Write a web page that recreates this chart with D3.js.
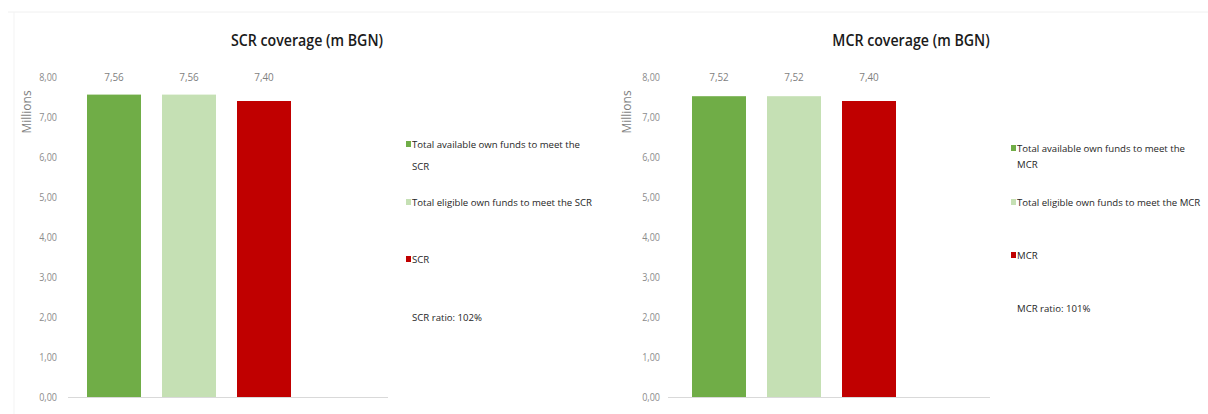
<!DOCTYPE html>
<html><head><meta charset="utf-8">
<script src="https://cdn.jsdelivr.net/npm/d3@7"></script>
<style>
body{margin:0;background:#fff;}
svg text{font-family:"Open Sans",sans-serif;}
</style></head>
<body><svg id="c" width="1208" height="414"></svg>
<script>
// ---- data ----
const categories = ["Total available own funds", "Total eligible own funds", "Requirement"];
const scrValues = [7.56, 7.56, 7.40];
const mcrValues = [7.52, 7.52, 7.40];
const yTicks = [0, 1, 2, 3, 4, 5, 6, 7, 8];
const scrTitle = "SCR coverage (m BGN)";
const mcrTitle = "MCR coverage (m BGN)";
const scrLegend = [["Total available own funds to meet the", "SCR"], ["Total eligible own funds to meet the SCR"], ["SCR"]];
const mcrLegend = [["Total available own funds to meet the", "MCR"], ["Total eligible own funds to meet the MCR"], ["MCR"]];
const scrRatio = "SCR ratio: 102%";
const mcrRatio = "MCR ratio: 101%";
const axisTitle = "Millions";
const colors = ["#70AD47", "#C5E0B4", "#C00000"];

const svg = d3.select("#c");
// faint outer frame lines
svg.append("line").attr("x1",8).attr("x2",1208).attr("y1",12).attr("y2",12).attr("stroke","#f0f0f0");
svg.append("line").attr("x1",14).attr("x2",14).attr("y1",12).attr("y2",414).attr("stroke","#f3f3f3");

const fmt = v => d3.format(".2f")(v).replace(".", ",");
function squeeze(sel, f){
  sel.each(function(){
    const w = this.getComputedTextLength();
    d3.select(this).attr("textLength", w*f).attr("lengthAdjust","spacingAndGlyphs");
  });
}

function drawChart(o){
  const g = svg.append("g");
  const y = d3.scaleLinear().domain([0, 8]).range([397, 77]);
  const x = d3.scaleBand().domain(categories).range(o.band).paddingInner(0.28).paddingOuter(0.14);
  // title
  g.append("text").attr("x", o.titleX).attr("y", 46).attr("text-anchor","middle")
    .attr("font-size", 16.5).attr("font-weight", 600).attr("fill","#1a1a1a").text(o.title).call(squeeze, 0.86);
  // y axis
  const ax = g.append("g").attr("transform", `translate(${o.axisX},0)`)
    .call(d3.axisLeft(y).tickValues(yTicks).tickFormat(fmt).tickSize(0).tickPadding(0));
  ax.select(".domain").remove();
  ax.selectAll("text").attr("font-size", 10.5).attr("fill","#8c8c8c")
    .style("font-family",'"Open Sans",sans-serif').call(squeeze, 0.86);
  // axis title
  g.append("text").attr("transform", `translate(${o.millX},112) rotate(-90)`).attr("text-anchor","middle")
    .attr("font-size", 12).attr("fill","#7f7f7f").text(axisTitle);
  // baseline
  g.append("line").attr("x1", o.base[0]).attr("x2", o.base[1]).attr("y1", y(0)+0.5).attr("y2", y(0)+0.5)
    .attr("stroke","#d9d9d9");
  // bars
  g.selectAll("rect.bar").data(o.values).join("rect").attr("class","bar")
    .attr("x",(d,i)=>x(categories[i])).attr("width", x.bandwidth())
    .attr("y", d=>y(d)).attr("height", d=>y(0)-y(d)).attr("fill",(d,i)=>colors[i]);
  // value labels
  g.selectAll("text.val").data(o.values).join("text").attr("class","val")
    .attr("x",(d,i)=>x(categories[i])+x.bandwidth()/2).attr("y", 81).attr("text-anchor","middle")
    .attr("font-size", 11).attr("fill","#7f7f7f").text(d=>fmt(d)).call(squeeze, 0.9);
  // legend
  o.legend.forEach((lines,i)=>{
    const ly = o.legendY[i];
    g.append("rect").attr("x", o.legX).attr("y", ly-3).attr("width",5).attr("height",6).attr("fill",colors[i]);
    lines.forEach((t,j)=>{
      g.append("text").attr("x", o.legX+6).attr("y", ly+4+j*o.lineGap).attr("font-size", 9.6)
        .attr("fill","#262626").text(t);
    });
  });
  g.append("text").attr("x", o.legX+6).attr("y", o.ratioY+4).attr("font-size", 9.6).attr("fill","#262626")
    .text(o.ratio);
}

drawChart({title:scrTitle, titleX:307, values:scrValues, band:[76.5,301.5], axisX:57, millX:31,
  base:[68,388], legend:scrLegend, legX:406, legendY:[144,202,259], lineGap:22, ratioY:317, ratio:scrRatio});
drawChart({title:mcrTitle, titleX:911, values:mcrValues, band:[681.5,906.5], axisX:660, millX:631,
  base:[668,990], legend:mcrLegend, legX:1011, legendY:[148,202,255], lineGap:16, ratioY:308, ratio:mcrRatio});
</script></body></html>
